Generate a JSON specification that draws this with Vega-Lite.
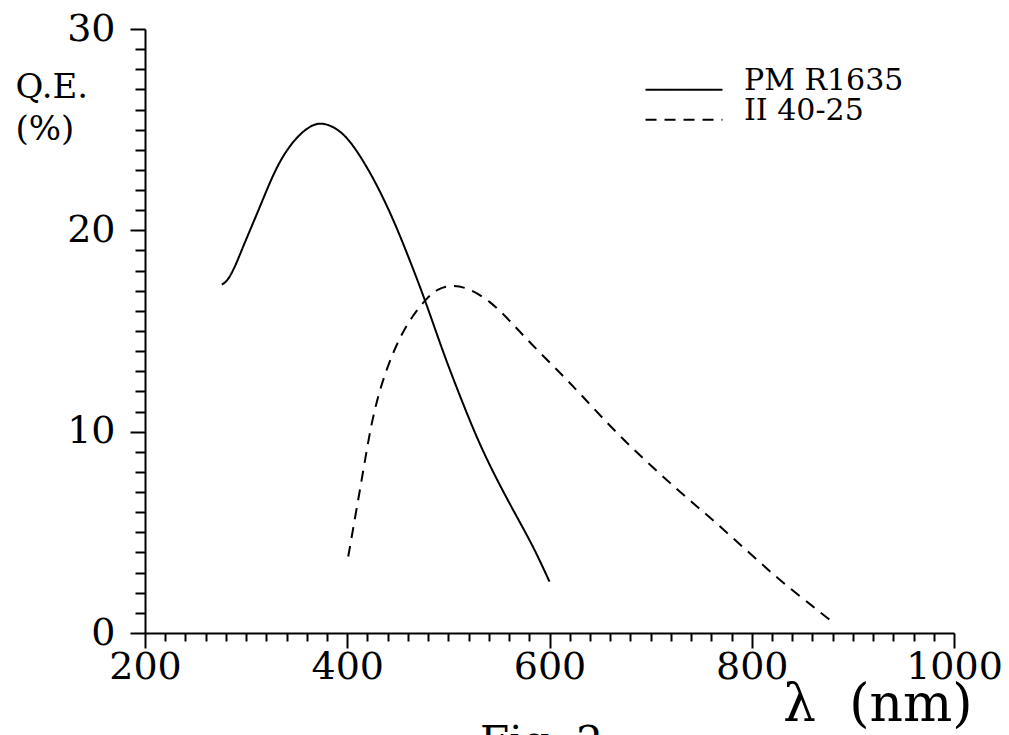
{
  "$schema": "https://vega.github.io/schema/vega-lite/v6.json",
  "width": 809,
  "height": 604,
  "autosize": {"type": "none"},
  "padding": {"left": 145, "top": 29, "right": 55, "bottom": 102},
  "background": "white",
  "config": {"view": {"stroke": null}, "font": "DejaVu Serif"},
  "title": {"text": "Fig. 2", "orient": "bottom", "anchor": "middle", "fontSize": 42, "fontWeight": "normal", "font": "DejaVu Serif", "color": "black", "offset": -7, "dx": -8},
  "data": {
    "values": [
      {"series": "PM R1635", "wavelength": 276, "qe": 17.3},
      {"series": "PM R1635", "wavelength": 282, "qe": 17.5},
      {"series": "PM R1635", "wavelength": 290, "qe": 18.3},
      {"series": "PM R1635", "wavelength": 297, "qe": 19.2},
      {"series": "PM R1635", "wavelength": 314, "qe": 21.2},
      {"series": "PM R1635", "wavelength": 330, "qe": 23.2},
      {"series": "PM R1635", "wavelength": 347, "qe": 24.5},
      {"series": "PM R1635", "wavelength": 363, "qe": 25.2},
      {"series": "PM R1635", "wavelength": 376, "qe": 25.4},
      {"series": "PM R1635", "wavelength": 396, "qe": 24.9},
      {"series": "PM R1635", "wavelength": 413, "qe": 23.7},
      {"series": "PM R1635", "wavelength": 429, "qe": 22.3},
      {"series": "PM R1635", "wavelength": 446, "qe": 20.5},
      {"series": "PM R1635", "wavelength": 462, "qe": 18.5},
      {"series": "PM R1635", "wavelength": 478, "qe": 16.4},
      {"series": "PM R1635", "wavelength": 495, "qe": 13.9},
      {"series": "PM R1635", "wavelength": 512, "qe": 11.7},
      {"series": "PM R1635", "wavelength": 528, "qe": 9.7},
      {"series": "PM R1635", "wavelength": 545, "qe": 7.9},
      {"series": "PM R1635", "wavelength": 564, "qe": 6.1},
      {"series": "PM R1635", "wavelength": 584, "qe": 4.3},
      {"series": "PM R1635", "wavelength": 600, "qe": 2.55},
      {"series": "II 40-25", "wavelength": 401, "qe": 3.8},
      {"series": "II 40-25", "wavelength": 409, "qe": 6.1},
      {"series": "II 40-25", "wavelength": 416, "qe": 8.1},
      {"series": "II 40-25", "wavelength": 423, "qe": 10.2},
      {"series": "II 40-25", "wavelength": 431, "qe": 11.9},
      {"series": "II 40-25", "wavelength": 441, "qe": 13.4},
      {"series": "II 40-25", "wavelength": 452, "qe": 14.7},
      {"series": "II 40-25", "wavelength": 465, "qe": 15.8},
      {"series": "II 40-25", "wavelength": 479, "qe": 16.65},
      {"series": "II 40-25", "wavelength": 489, "qe": 17.1},
      {"series": "II 40-25", "wavelength": 505, "qe": 17.3},
      {"series": "II 40-25", "wavelength": 521, "qe": 17.1},
      {"series": "II 40-25", "wavelength": 541, "qe": 16.5},
      {"series": "II 40-25", "wavelength": 561, "qe": 15.5},
      {"series": "II 40-25", "wavelength": 581, "qe": 14.4},
      {"series": "II 40-25", "wavelength": 607, "qe": 13.1},
      {"series": "II 40-25", "wavelength": 632, "qe": 11.8},
      {"series": "II 40-25", "wavelength": 663, "qe": 10.1},
      {"series": "II 40-25", "wavelength": 696, "qe": 8.5},
      {"series": "II 40-25", "wavelength": 729, "qe": 7.0},
      {"series": "II 40-25", "wavelength": 762, "qe": 5.6},
      {"series": "II 40-25", "wavelength": 795, "qe": 4.1},
      {"series": "II 40-25", "wavelength": 828, "qe": 2.6},
      {"series": "II 40-25", "wavelength": 861, "qe": 1.3},
      {"series": "II 40-25", "wavelength": 881, "qe": 0.5}
    ]
  },
  "mark": {"type": "line", "interpolate": "basis", "color": "black", "strokeWidth": 2},
  "encoding": {
    "x": {
      "field": "wavelength",
      "type": "quantitative",
      "scale": {"domain": [200, 1000], "nice": false, "zero": false},
      "axis": {
        "title": "λ\u00a0\u00a0(nm)",
        "values": [200,220,240,260,280,300,320,340,360,380,400,420,440,460,480,500,520,540,560,580,600,620,640,660,680,700,720,740,760,780,800,820,840,860,880,900,920,940,960,980,1000],
        "format": "d",
        "labelExpr": "datum.value % 200 === 0 ? datum.label : ''",
        "labelFont": "DejaVu Serif",
        "labelFontSize": 38,
        "labelColor": "black",
        "labelPadding": 0,
        "labelOverlap": false,
        "labelFlush": false,
        "grid": false,
        "domainColor": "black",
        "domainWidth": 2,
        "tickColor": "black",
        "tickWidth": 2,
        "tickSize": {"condition": {"test": "datum.value % 200 === 0", "value": 15}, "value": 8},
        "titleFont": "DejaVu Serif",
        "titleFontSize": 52,
        "titleFontWeight": "normal",
        "titleColor": "black",
        "titleAlign": "right",
        "titleBaseline": "alphabetic",
        "titleX": 827,
        "titleY": 87
      }
    },
    "y": {
      "field": "qe",
      "type": "quantitative",
      "scale": {"domain": [0, 30], "nice": false},
      "axis": {
        "title": ["Q.E.", "(%)"],
        "values": [0,1,2,3,4,5,6,7,8,9,10,11,12,13,14,15,16,17,18,19,20,21,22,23,24,25,26,27,28,29,30],
        "format": "d",
        "labelExpr": "datum.value % 10 === 0 ? datum.label : ''",
        "labelFont": "DejaVu Serif",
        "labelFontSize": 38,
        "labelColor": "black",
        "labelPadding": 15,
        "labelOverlap": false,
        "labelFlush": false,
        "grid": false,
        "domainColor": "black",
        "domainWidth": 2,
        "tickColor": "black",
        "tickWidth": 2,
        "tickSize": {"condition": {"test": "datum.value % 10 === 0", "value": 15}, "value": 10},
        "titleFont": "DejaVu Serif",
        "titleFontSize": 34,
        "titleFontWeight": "normal",
        "titleColor": "black",
        "titleAngle": 0,
        "titleAlign": "left",
        "titleBaseline": "alphabetic",
        "titleLineHeight": 42,
        "titleX": -130,
        "titleY": 68
      }
    },
    "strokeDash": {
      "field": "series",
      "type": "nominal",
      "scale": {"domain": ["PM R1635", "II 40-25"], "range": [[1, 0], [11, 8]]},
      "legend": {
        "orient": "none",
        "legendX": 524,
        "legendY": 37,
        "title": null,
        "symbolType": "M-4,0.9H4",
        "symbolSize": 370,
        "symbolStrokeWidth": 2,
        "symbolStrokeColor": "black",
        "symbolFillColor": "transparent",
        "labelFont": "DejaVu Serif",
        "labelFontSize": 30,
        "labelColor": "black",
        "labelOffset": 45,
        "rowPadding": 0,
        "padding": 0
      }
    }
  }
}
